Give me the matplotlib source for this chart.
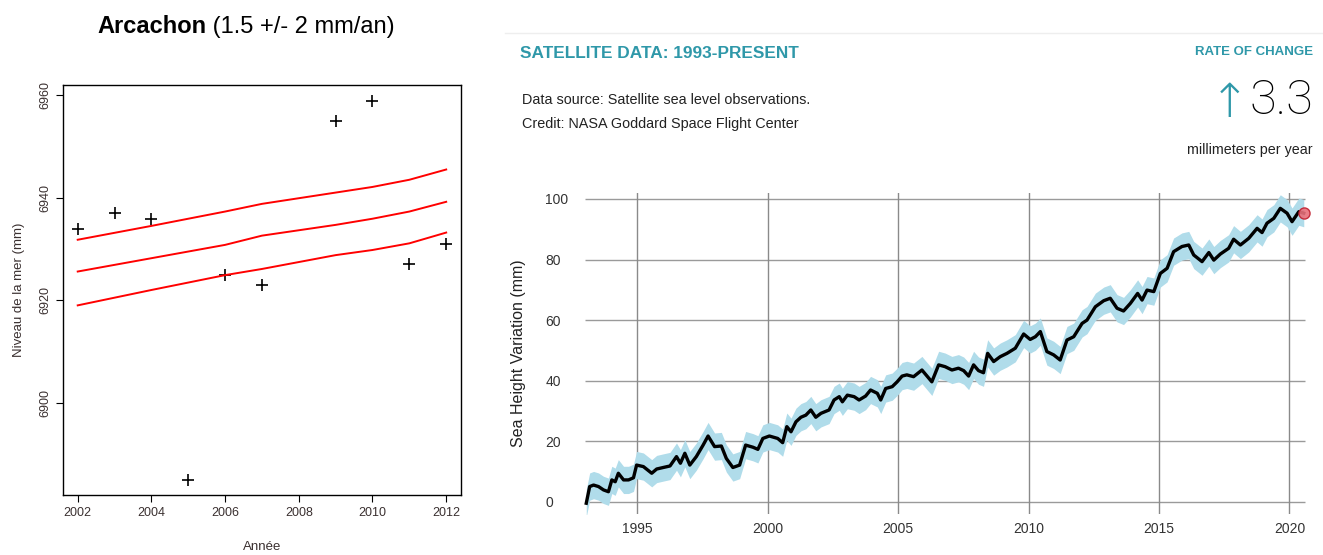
import matplotlib
matplotlib.use("Agg")
import matplotlib.pyplot as plt

# --- Arcachon (annual mean sea level, mm) ---
arc_years = [2002, 2003, 2004, 2005, 2006, 2007, 2009, 2010, 2011, 2012]
arc_level = [6933.9, 6937.0, 6935.9, 6884.9, 6925.0, 6923.0, 6955.0, 6958.9, 6927.0, 6931.0]

fit_years = [2002, 2004, 2006, 2007, 2009, 2010, 2011, 2012]
fit_mid = [6925.6, 6928.2, 6930.8, 6932.6, 6934.7, 6935.9, 6937.3, 6939.2]
fit_upper = [6931.8, 6934.5, 6937.3, 6938.8, 6941.0, 6942.1, 6943.5, 6945.5]
fit_lower = [6919.0, 6922.0, 6924.9, 6926.1, 6928.8, 6929.8, 6931.1, 6933.2]

# --- Satellite sea level (mm) ---
sat_years = [1993.04, 1993.17, 1993.32, 1993.51, 1993.70, 1993.89, 1994.02, 1994.15, 1994.27,
             1994.47, 1994.66, 1994.85, 1994.97, 1995.23, 1995.55, 1995.74, 1995.99, 1996.25,
             1996.50, 1996.65, 1996.82, 1997.01, 1997.26, 1997.52, 1997.71, 1997.96, 1998.22,
             1998.41, 1998.66, 1998.92, 1999.15, 1999.43, 1999.62, 1999.81, 2000.06, 2000.38,
             2000.57, 2000.73, 2000.89, 2001.08, 2001.27, 2001.46, 2001.65, 2001.84, 2002.04,
             2002.35, 2002.54, 2002.74, 2002.86, 2003.05, 2003.31, 2003.50, 2003.75, 2003.94,
             2004.20, 2004.33, 2004.52, 2004.77, 2004.96, 2005.15, 2005.33, 2005.59, 2005.91,
             2006.29, 2006.55, 2006.80, 2007.06, 2007.31, 2007.51, 2007.70, 2007.89, 2008.08,
             2008.27, 2008.43, 2008.66, 2008.91, 2009.17, 2009.49, 2009.81, 2010.06, 2010.26,
             2010.45, 2010.70, 2010.96, 2011.21, 2011.47, 2011.73, 2012.05, 2012.24, 2012.56,
             2012.88, 2013.13, 2013.39, 2013.64, 2013.90, 2014.18, 2014.35, 2014.54, 2014.80,
             2015.05, 2015.31, 2015.56, 2015.88, 2016.14, 2016.33, 2016.65, 2016.91, 2017.10,
             2017.35, 2017.67, 2017.86, 2018.12, 2018.44, 2018.76, 2018.95, 2019.14, 2019.40,
             2019.65, 2019.91, 2020.10, 2020.36, 2020.55]
sat_level = [-0.5, 5.0, 5.5, 5.0, 3.9, 3.3, 7.2, 6.6, 9.4,
             7.2, 7.2, 7.9, 12.1, 11.6, 9.4, 10.8, 11.3, 11.8,
             14.9, 12.7, 16.0, 12.1, 14.9, 18.7, 21.7, 18.2, 18.4,
             14.3, 11.3, 12.1, 18.7, 18.0, 17.3, 20.9, 21.7, 20.9,
             19.5, 24.8, 23.1, 26.4, 27.9, 28.6, 30.3, 27.9, 29.2,
             30.3, 33.6, 34.7, 33.0, 35.2, 34.7, 33.6, 34.9, 36.9,
             35.8, 33.6, 37.4, 38.0, 39.6, 41.5, 41.9, 41.3, 43.5,
             39.6, 45.2, 44.6, 43.5, 44.1, 43.3, 41.5, 45.2, 43.3,
             42.6, 49.0, 46.3, 47.9, 49.0, 50.7, 55.4, 53.6, 54.5,
             56.2, 49.6, 48.5, 46.8, 53.4, 54.5, 58.9, 60.0, 64.4,
             66.4, 67.2, 63.9, 63.0, 65.5, 68.8, 66.6, 69.9, 69.4,
             75.4, 77.1, 82.6, 84.3, 84.8, 81.5, 79.3, 82.3, 79.8,
             81.8, 83.7, 86.7, 84.8, 87.0, 90.3, 88.9, 92.0, 93.6,
             96.9, 95.3, 92.5, 95.8, 95.3]
sat_uncertainty = 4.5
sat_yticks = [0, 20, 40, 60, 80, 100]
sat_xticks = [1995, 2000, 2005, 2010, 2015, 2020]

teal = "#2f98a9"
sans = ["Liberation Sans", "DejaVu Sans"]

fig = plt.figure(figsize=(13.23, 5.55), dpi=100)

# ---------------- left panel ----------------
ax1 = fig.add_axes([0.0476, 0.108, 0.3008, 0.739])
ax1.plot(arc_years, arc_level, linestyle="none", marker="+", ms=9, mew=1.2, color="black")
for curve in (fit_upper, fit_mid, fit_lower):
    ax1.plot(fit_years, curve, color="red", lw=1.4)
ax1.set_xlim(2001.6, 2012.4)
ax1.set_ylim(6882.0, 6962.0)
ax1.set_xticks([2002, 2004, 2006, 2008, 2010, 2012])
ax1.set_yticks([6900, 6920, 6940, 6960])
ax1.tick_params(axis="both", direction="out", length=5, width=0.8,
                labelsize=9, colors="black")
for lab in ax1.get_yticklabels():
    lab.set_rotation(90)
    lab.set_va("center")
for lab in ax1.get_xticklabels() + ax1.get_yticklabels():
    lab.set_family(sans)
    lab.set_color("#3a3030")
for sp in ax1.spines.values():
    sp.set_linewidth(1.0)
ax1.set_ylabel("Niveau de la mer (mm)", fontsize=9.5, color="#3a3030",
               family=sans, labelpad=10)
ax1.set_xlabel("Année", fontsize=9.5, color="#3a3030", family=sans, labelpad=16)

title_bold = fig.text(97 / 1323, 1 - 33 / 555, "Arcachon", fontsize=17, fontweight="bold",
                      family=sans, ha="left", va="baseline")
ax1.annotate(" (1.5 +/- 2 mm/an)", xy=(1, 0), xycoords=title_bold, fontsize=17,
             family=sans, ha="left", va="bottom", annotation_clip=False)

# ---------------- right panel ----------------
ax2 = fig.add_axes([0.4384, 0.0742, 0.5518, 0.5782])
ax2.set_xlim(1992.8, 2020.79)
ax2.set_ylim(-4, 102)
for y in sat_yticks:
    ax2.hlines(y, 1993.0, 2020.6, color="#9a9a9a", lw=1.0, zorder=1)
for x in sat_xticks:
    ax2.axvline(x, color="#8a8a8a", lw=1.0, zorder=1)
lower = [v - sat_uncertainty for v in sat_level]
upper = [v + sat_uncertainty for v in sat_level]
ax2.fill_between(sat_years, lower, upper, color="#b0dcea", lw=0, zorder=2)
ax2.plot(sat_years, sat_level, color="black", lw=2.4, zorder=3)
ax2.plot(sat_years[-1], sat_level[-1], marker="o", ms=8, color="#e8707a",
         mec="#c02030", mew=1.0, alpha=0.9, zorder=4)
for sp in ax2.spines.values():
    sp.set_visible(False)
ax2.set_xticks(sat_xticks)
ax2.set_yticks(sat_yticks)
ax2.tick_params(axis="both", length=0, labelsize=10, labelcolor="#333333")
ax2.tick_params(axis="y", pad=25)
ax2.tick_params(axis="x", pad=6)
for lab in ax2.get_yticklabels():
    lab.set_ha("left")
for lab in ax2.get_xticklabels() + ax2.get_yticklabels():
    lab.set_family(sans)
ax2.set_ylabel("Sea Height Variation (mm)", fontsize=11.5, color="#222222",
               family=sans, labelpad=14)

# header of the satellite panel
fig.add_artist(plt.Line2D([505 / 1323, 1.0], [1 - 33 / 555] * 2, color="#eeeeee", lw=1.0))
fig.text(520 / 1323, 1 - 53 / 555, "SATELLITE DATA: 1993-PRESENT", color=teal, fontsize=12.4,
         fontweight="bold", family=sans, ha="left", va="center")
fig.text(522 / 1323, 1 - 100 / 555, "Data source: Satellite sea level observations.",
         color="#222222", fontsize=10.4, family=sans, ha="left", va="center")
fig.text(522 / 1323, 1 - 124 / 555, "Credit: NASA Goddard Space Flight Center",
         color="#222222", fontsize=10.4, family=sans, ha="left", va="center")
fig.text(1313 / 1323, 1 - 52 / 555, "RATE OF CHANGE", color=teal, fontsize=9.5,
         fontweight="bold", family=sans, ha="right", va="center")
fig.text(1313 / 1323, 1 - 101 / 555, "3.3", color="black", fontsize=35, fontweight="light",
         family=["Roboto", "Liberation Sans", "DejaVu Sans"], ha="right", va="center")
fig.text(1230 / 1323, 1 - 104 / 555, "\u2191", color=teal, fontsize=34, fontweight="light",
         family=["DejaVu Sans"], ha="center", va="center")
fig.text(1313 / 1323, 1 - 150 / 555, "millimeters per year", color="#222222", fontsize=10.3,
         family=sans, ha="right", va="center")

fig.savefig("out.png", dpi=100)
